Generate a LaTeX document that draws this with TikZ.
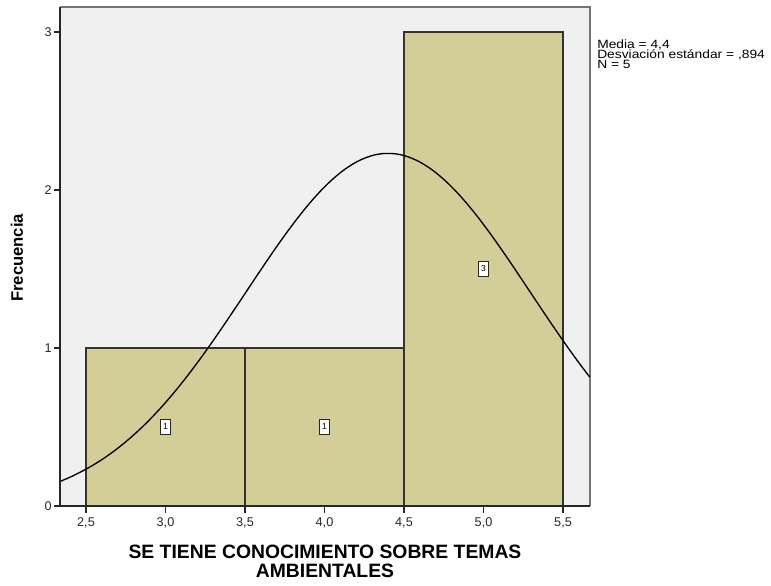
\documentclass[tikz,border=0pt]{standalone}
\usepackage{fontspec}
\setmainfont{Liberation Sans}
\newfontfamily\statsfamily[FakeStretch=1.15]{Liberation Sans}
\definecolor{barfill}{RGB}{211,206,151}
\definecolor{plotbg}{RGB}{240,240,240}
\newcommand{\statsfont}{\statsfamily\fontsize{9}{7.8}\selectfont\lineskiplimit=-20pt\relax}
\begin{document}
\begin{tikzpicture}[x=119.25pt,y=118.5pt,
    bar/.style={draw=black!80, fill=barfill, line width=0.9pt},
    ticklabel/.style={font=\fontsize{9.5}{11}\selectfont, text=black!85, inner sep=0pt},
    countbox/.style={draw=black!85, fill=white, line width=0.7pt, inner sep=1pt, font=\fontsize{6.5}{7}\selectfont, minimum width=7.5pt, minimum height=11pt},
    axistitle/.style={font=\bfseries\fontsize{14.5}{14.25}\selectfont, align=center, inner sep=0pt}]
        \useasboundingbox (1.9591,-0.5063) rectangle (6.8082,3.2025);

        % Frame
        \fill[plotbg] (2.3365,0) rectangle (5.6698,3.158);
        \draw[black!55, line width=1pt] (2.3365,3.158) -- (5.6698,3.158) -- (5.6698,0);

        % Bars
        \draw[bar] (2.5,0) rectangle (3.5,1);
        \draw[bar] (3.5,0) rectangle (4.5,1);
        \draw[bar] (4.5,0) rectangle (5.5,3);

        % Normal curve
        \draw[line width=1pt] plot[domain=2.3365:5.6698, samples=120, smooth]
            (\x, {2.23122*exp(-(\x-4.4)^2/1.598472)});

        % Counts
        \node (c1) [countbox] at (3,0.5) {1};
        \node (c2) [countbox] at (4,0.5) {1};
        \node (c3) [countbox] at (5,1.5) {3};

        % Axes
        \draw[black!85, line width=1pt] (2.3365,3.158) -- (2.3365,0) -- (5.6698,0);
        \foreach \y in {0,1,2,3} {
            \draw[black!85, line width=0.9pt] (2.3365,\y) -- (2.2985,\y);
            \node (yl\y) [ticklabel, anchor=east] at (2.2860,\y) {\y};
        }
        \foreach \v/\l [count=\i] in {2.5/{2,5},3.0/{3,0},3.5/{3,5},4.0/{4,0},4.5/{4,5},5.0/{5,0},5.5/{5,5}} {
            \draw[black!85, line width=0.9pt] (\v,0) -- (\v,-0.045);
            \node (xl\i) [ticklabel] at (\v,-0.106) {\l};
        }

        % Titles
        \node (ytitle) [axistitle, rotate=90, font=\bfseries\fontsize{12.5}{14}\selectfont] at (2.066,1.570) {Frecuencia};
        \node (xtitle) [axistitle] at (4.003,-0.351) {SE TIENE CONOCIMIENTO SOBRE TEMAS\\AMBIENTALES};

        % Stats
        \node (stats) [anchor=north west, align=left, inner sep=0pt, font=\statsfont] at (5.7138,2.955)
            {Media = 4,4\\Desviación estándar = ,894\\N = 5};
    \end{tikzpicture}
\end{document}
